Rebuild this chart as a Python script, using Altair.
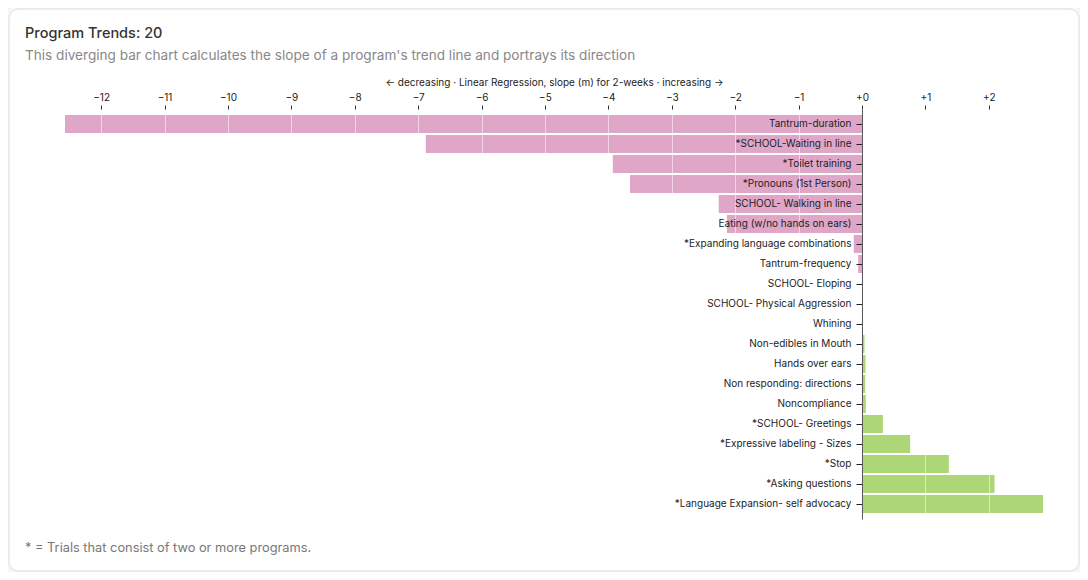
import altair as alt
import pandas as pd

programs = [
    "Tantrum-duration ",
    "*SCHOOL-Waiting in line",
    "*Toilet training",
    "*Pronouns (1st Person)",
    "SCHOOL- Walking in line ",
    "Eating (w/no hands on ears)",
    "*Expanding language combinations",
    "Tantrum-frequency",
    "SCHOOL- Eloping",
    "SCHOOL- Physical Aggression",
    "Whining",
    "Non-edibles in Mouth",
    "Hands over ears ",
    "Non responding: directions",
    "Noncompliance",
    "*SCHOOL- Greetings",
    "*Expressive labeling - Sizes",
    "*Stop",
    "*Asking questions",
    "*Language Expansion- self advocacy",
]
slopes = [-12.57, -6.88, -3.93, -3.66, -2.26, -2.13, -0.13, -0.06, 0.0, 0.0, 0.0,
          0.04, 0.055, 0.05, 0.06, 0.33, 0.76, 1.37, 2.09, 2.855]
tick_values = list(range(-12, 3))

title_text = "Program Trends: 20"
subtitle_text = "This diverging bar chart calculates the slope of a program's trend line and portrays its direction"
axis_title = "\u2190 decreasing \u00b7 Linear Regression, slope (m) for 2-weeks \u00b7 increasing \u2192"
footnote = "* = Trials that consist of two or more programs."

PINK = "#dfa6c8"
GREEN = "#add776"
W, H = 978, 410
TOP = 101

df = pd.DataFrame({"program": programs, "slope": slopes})
xmin, xmax = min(slopes), max(slopes)
zero_offset = -(0 - xmin) / (xmax - xmin) * W

x_scale = alt.Scale(domain=[xmin, xmax], nice=False, zero=False)

one = pd.DataFrame({"k": [0]})

card = alt.Chart(one).mark_rect(
    fill="white", stroke="#dedede", strokeWidth=1, cornerRadius=10
).encode(
    x=alt.value(-56), x2=alt.value(W + 36),
    y=alt.value(1 - TOP), y2=alt.value(563 - TOP),
)

bars = alt.Chart(df).mark_bar().encode(
    x=alt.X("slope:Q", scale=x_scale,
            axis=alt.Axis(orient="top", values=tick_values, format="+d",
                          title=axis_title, titleFontSize=10, titleFontWeight="normal",
                          titleColor="#222", titlePadding=5,
                          labelFontSize=10, labelColor="#222", labelPadding=3,
                          tickSize=4, tickColor="#333", domain=False,
                          grid=True, gridColor="white", gridOpacity=0.55,
                          zindex=1)),
    y=alt.Y("program:N", sort=programs,
            scale=alt.Scale(paddingInner=0.1, paddingOuter=0.3),
            axis=alt.Axis(orient="left", offset=zero_offset, title=None,
                          labelFontSize=10, labelColor="#222", labelPadding=5,
                          tickSize=6, tickColor="#222", domainColor="#555",
                          grid=False, zindex=1, labelLimit=400)),
    color=alt.condition(alt.datum.slope < 0, alt.value(PINK), alt.value(GREEN)),
)

heading = alt.Chart(pd.DataFrame({"t": [title_text]})).mark_text(
    align="left", baseline="middle", fontSize=14.5, fontWeight=500, color="#333", font="Inter"
).encode(text="t:N", x=alt.value(-40), y=alt.value(26 - TOP))

sub = alt.Chart(pd.DataFrame({"t": [subtitle_text]})).mark_text(
    align="left", baseline="middle", fontSize=13.6, color="#888", font="Inter"
).encode(text="t:N", x=alt.value(-40), y=alt.value(48 - TOP))

note = alt.Chart(pd.DataFrame({"t": [footnote]})).mark_text(
    align="left", baseline="middle", fontSize=12.8, color="#777", font="Inter"
).encode(text="t:N", x=alt.value(-40), y=alt.value(540 - TOP))

chart = alt.layer(card, bars, heading, sub, note).properties(
    width=W, height=H,
    background="#f5f5f5",
    padding={"left": 57, "top": TOP, "right": 37, "bottom": 564 - TOP - H},
    autosize=alt.AutoSizeParams(type="none"),
).configure(font="Inter").configure_view(stroke=None)

chart.save("out.html", embed_options={"renderer": "svg", "actions": False})
